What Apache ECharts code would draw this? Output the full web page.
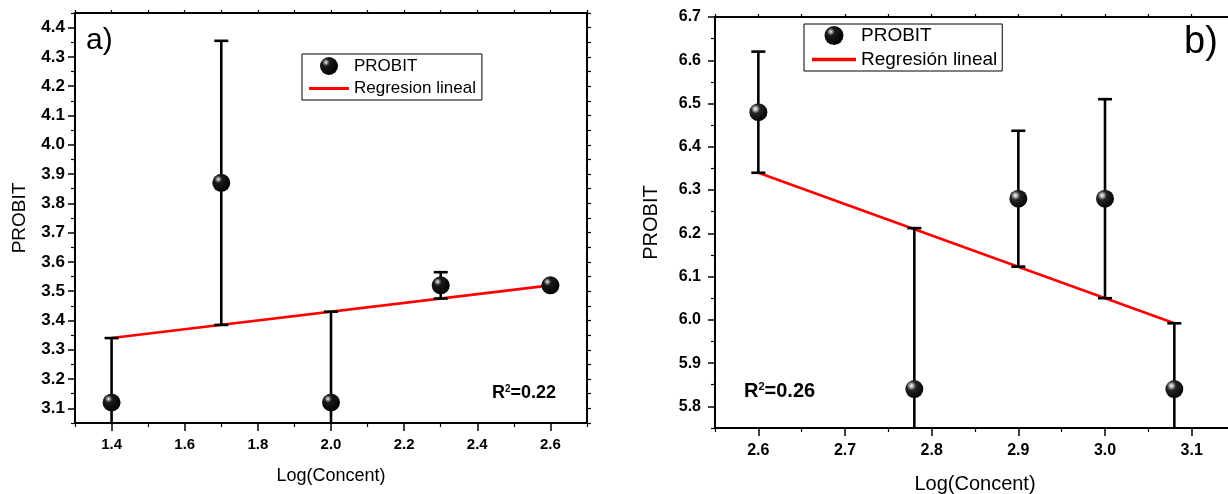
<!DOCTYPE html>
<html><head><meta charset="utf-8">
<script src="https://cdn.jsdelivr.net/npm/echarts@6/dist/echarts.min.js"></script>
<style>html,body{margin:0;padding:0;background:#fff}#c{width:1228px;height:494px}</style>
</head><body><div id="c"></div>
<script>
// ---- Panel a) data ----
const xA = [1.4, 1.7, 2.0, 2.3, 2.6];
const yA = [3.12, 3.87, 3.12, 3.52, 3.52];
const errA = [0.22, 0.485, 0.31, 0.045, 0];
const fitXA = [1.4, 2.6];
const fitYA = [3.34, 3.52];
const xTicksA = [1.4, 1.6, 1.8, 2.0, 2.2, 2.4, 2.6];
const xMinorA = [1.3, 1.5, 1.7, 1.9, 2.1, 2.3, 2.5, 2.7];
const yTicksA = [3.1, 3.2, 3.3, 3.4, 3.5, 3.6, 3.7, 3.8, 3.9, 4.0, 4.1, 4.2, 4.3, 4.4];
const yMinorA = [3.05, 3.15, 3.25, 3.35, 3.45, 3.55, 3.65, 3.75, 3.85, 3.95, 4.05, 4.15, 4.25, 4.35, 4.45];

// ---- Panel b) data ----
const xB = [2.6, 2.78, 2.9, 3.0, 3.08];
const yB = [6.48, 5.84, 6.28, 6.28, 5.84];
const errB = [0.14, 0.372, 0.157, 0.23, 0.152];
const fitXB = [2.6, 3.08];
const fitYB = [6.34, 5.992];
const xTicksB = [2.6, 2.7, 2.8, 2.9, 3.0, 3.1];
const xMinorB = [2.55, 2.65, 2.75, 2.85, 2.95, 3.05, 3.15];
const yTicksB = [5.8, 5.9, 6.0, 6.1, 6.2, 6.3, 6.4, 6.5, 6.6, 6.7];
const yMinorB = [5.75, 5.85, 5.95, 6.05, 6.15, 6.25, 6.35, 6.45, 6.55, 6.65];

const FONT = "'Liberation Sans', Arial, sans-serif";
const ballA = {type:'radial', x:0.33, y:0.3, r:0.75, colorStops:[
  {offset:0, color:'#ffffff'}, {offset:0.1, color:'#9a9a9a'},
  {offset:0.28, color:'#1a1a1a'}, {offset:1, color:'#000000'}]};
const ballB = {type:'radial', x:0.34, y:0.32, r:0.75, colorStops:[
  {offset:0, color:'#ffffff'}, {offset:0.14, color:'#b0b0b0'},
  {offset:0.34, color:'#262626'}, {offset:1, color:'#000000'}]};
const lineIcon = 'path://M0,0L40,0L40,3L0,3Z';

function errRender(params, api){
  const x = api.value(0), y = api.value(1), e = api.value(2);
  if (!e) return;
  const top = api.coord([x, y + e]);
  const bot = api.coord([x, y - e]);
  const cs = params.coordSys;
  const yMin = cs.y, yMax = cs.y + cs.height;
  let t = top[1], b = bot[1];
  const capT = t >= yMin, capB = b <= yMax;
  t = Math.max(t, yMin); b = Math.min(b, yMax);
  const st = {stroke:'#000', lineWidth:2.6};
  const hw = 7;
  const ch = [{type:'line', shape:{x1:top[0], y1:t, x2:top[0], y2:b}, style:st}];
  if (capT) ch.push({type:'line', shape:{x1:top[0]-hw, y1:t, x2:top[0]+hw, y2:t}, style:st});
  if (capB) ch.push({type:'line', shape:{x1:bot[0]-hw, y1:b, x2:bot[0]+hw, y2:b}, style:st});
  return {type:'group', children:ch};
}

function majorX(grid, min, max, ticks, nameGap, nameSize, lblSize, lblMargin){
  return {type:'value', gridIndex:grid, position:'bottom', min, max,
    name:'Log(Concent)', nameLocation:'middle', nameGap,
    nameTextStyle:{fontSize:nameSize, color:'#000', fontFamily:FONT},
    axisLine:{show:true, lineStyle:{color:'#000', width:2}},
    axisTick:{show:true, length:8, customValues:ticks, lineStyle:{color:'#000', width:1.5}},
    axisLabel:{customValues:ticks, formatter:v=>v.toFixed(1), fontSize:lblSize, fontWeight:'bold', color:'#000', fontFamily:FONT, margin:lblMargin},
    splitLine:{show:false}};
}
function minorAxis(grid, pos, min, max, ticks, len){
  return {type:'value', gridIndex:grid, position:pos, min, max,
    axisLine:{show:pos==='top'||pos==='right', lineStyle:{color:'#000', width:2}},
    axisTick:{show:true, length:len, customValues:ticks, lineStyle:{color:'#000', width:1.2}},
    axisLabel:{show:false}, splitLine:{show:false}};
}
function majorY(grid, min, max, ticks, nameGap, nameSize, lblSize, lblMargin){
  return {type:'value', gridIndex:grid, position:'left', min, max,
    name:'PROBIT', nameLocation:'middle', nameGap,
    nameTextStyle:{fontSize:nameSize, color:'#000', fontFamily:FONT},
    axisLine:{show:true, lineStyle:{color:'#000', width:2}},
    axisTick:{show:true, length:7, customValues:ticks, lineStyle:{color:'#000', width:1.5}},
    axisLabel:{customValues:ticks, formatter:v=>v.toFixed(1), fontSize:lblSize, fontWeight:'bold', color:'#000', fontFamily:FONT, margin:lblMargin},
    splitLine:{show:false}};
}

const allA = xMinorA.concat(xTicksA).sort((a,b)=>a-b);
const allB = xMinorB.concat(xTicksB).sort((a,b)=>a-b);
const allYA = yMinorA.concat(yTicksA).sort((a,b)=>a-b);
const allYB = yMinorB.concat(yTicksB).sort((a,b)=>a-b);

const option = {
  backgroundColor:'#fff',
  animation:false,
  grid:[
    {left:75, top:13, width:512, height:410, containLabel:false, outerBoundsMode:'none'},
    {left:715, top:17, width:520, height:411, containLabel:false, outerBoundsMode:'none'}
  ],
  xAxis:[
    majorX(0, 1.3, 2.7, xTicksA, 44, 18, 15, 14),
    minorAxis(0, 'bottom', 1.3, 2.7, xMinorA, 4),
    minorAxis(0, 'top', 1.3, 2.7, allA, 3),
    majorX(1, 2.55, 3.15, xTicksB, 46, 20, 16, 15),
    minorAxis(1, 'bottom', 2.55, 3.15, xMinorB, 4),
    minorAxis(1, 'top', 2.55, 3.15, allB, 3)
  ],
  yAxis:[
    majorY(0, 3.05, 4.45, yTicksA, 46, 19, 17, 10),
    minorAxis(0, 'left', 3.05, 4.45, yMinorA, 4),
    minorAxis(0, 'right', 3.05, 4.45, allYA, 4),
    majorY(1, 5.75, 6.7, yTicksB, 54, 20, 16, 14),
    minorAxis(1, 'left', 5.75, 6.7, yMinorB, 4),
    minorAxis(1, 'right', 5.75, 6.7, allYB, 4)
  ],
  legend:[
    {left:302, top:54, orient:'vertical', itemGap:5, itemWidth:40, itemHeight:18,
     padding:[3,6,3,7], borderColor:'#000', borderWidth:1, borderRadius:0,
     textStyle:{fontSize:17, color:'#000', fontFamily:FONT},
     data:[{name:'PROBIT', icon:'circle'}, {name:'Regresion lineal', icon:lineIcon}]},
    {left:804, top:24, orient:'vertical', itemGap:5, itemWidth:44, itemHeight:19,
     padding:[2,5,2,8], borderColor:'#000', borderWidth:1, borderRadius:0,
     textStyle:{fontSize:19, color:'#000', fontFamily:FONT},
     data:[{name:'PROBIT', icon:'circle'}, {name:'Regresión lineal', icon:lineIcon}]}
  ],
  title:[
    {text:'a)', left:86, top:26, padding:0, textStyle:{fontSize:30, fontWeight:'normal', color:'#000', fontFamily:FONT}},
    {text:'b)', left:1184, top:24, padding:0, textStyle:{fontSize:38, fontWeight:'normal', color:'#000', fontFamily:FONT}},
    {text:'R{s|2}=0.22', left:492, top:384, padding:0,
     textStyle:{fontSize:18, fontWeight:'bold', color:'#000', fontFamily:FONT,
       rich:{s:{fontSize:10, fontWeight:'bold', color:'#000', fontFamily:FONT, verticalAlign:'top'}}}},
    {text:'R{s|2}=0.26', left:744, top:381, padding:0,
     textStyle:{fontSize:20, fontWeight:'bold', color:'#000', fontFamily:FONT,
       rich:{s:{fontSize:11, fontWeight:'bold', color:'#000', fontFamily:FONT, verticalAlign:'top'}}}}
  ],
  series:[
    {name:'Regresion lineal', type:'line', xAxisIndex:0, yAxisIndex:0, symbol:'none', z:2,
     lineStyle:{color:'#ff0000', width:2.6}, itemStyle:{color:'#ff0000'},
     data:fitXA.map((x,i)=>[x, fitYA[i]])},
    {type:'custom', xAxisIndex:0, yAxisIndex:0, z:3, renderItem:errRender,
     data:xA.map((x,i)=>[x, yA[i], errA[i]])},
    {name:'PROBIT', type:'scatter', xAxisIndex:0, yAxisIndex:0, z:4, symbolSize:18,
     itemStyle:{color:ballA, opacity:1}, data:xA.map((x,i)=>[x, yA[i]])},

    {name:'Regresión lineal', type:'line', xAxisIndex:3, yAxisIndex:3, symbol:'none', z:2,
     lineStyle:{color:'#ff0000', width:2.6}, itemStyle:{color:'#ff0000'},
     data:fitXB.map((x,i)=>[x, fitYB[i]])},
    {type:'custom', xAxisIndex:3, yAxisIndex:3, z:3, renderItem:errRender,
     data:xB.map((x,i)=>[x, yB[i], errB[i]])},
    {name:'PROBIT', type:'scatter', xAxisIndex:3, yAxisIndex:3, z:4, symbolSize:18,
     itemStyle:{color:ballB, opacity:1}, data:xB.map((x,i)=>[x, yB[i]])}
  ]
};
const chart = echarts.init(document.getElementById('c'), null, {renderer:'canvas'});
chart.setOption(option);
</script></body></html>
